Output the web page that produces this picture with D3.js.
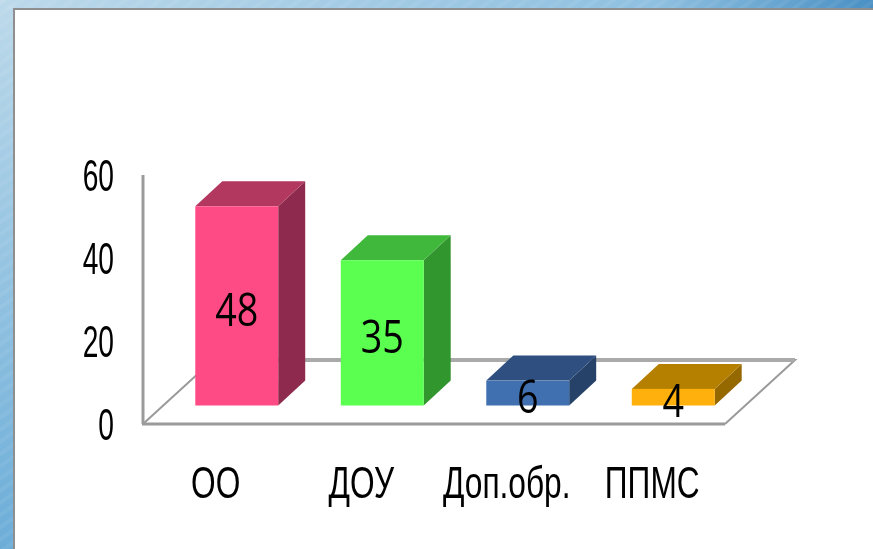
<!DOCTYPE html>
<html>
<head>
<meta charset="utf-8">
<script src="https://cdn.jsdelivr.net/npm/d3@7"></script>
<style>
html, body { margin: 0; padding: 0; background: #fff; overflow: hidden; }
svg { display: block; }
</style>
</head>
<body>
<div id="viz"></div>
<script>
var categories = ["ОО", "ДОУ", "Доп.обр.", "ППМС"];
var values = [48, 35, 6, 4];
var yTicks = [0, 20, 40, 60];
var frontColors = ["#ff4b85", "#5aff50", "#3f6fb0", "#ffb007"];
var topColors = ["#b33761", "#40b83a", "#2e5080", "#b58004"];
var sideColors = ["#8e2b4d", "#33962f", "#274368", "#966804"];

var width = 873, height = 549;

var svg = d3.select("#viz").append("svg")
    .attr("width", width)
    .attr("height", height);

// picture background, only seen along the top and left edges
var defs = svg.append("defs");
var topGrad = defs.append("linearGradient").attr("id", "topBg");
topGrad.append("stop").attr("offset", 0).attr("stop-color", "#bcd9ea");
topGrad.append("stop").attr("offset", 0.75).attr("stop-color", "#8fc0e0");
topGrad.append("stop").attr("offset", 1).attr("stop-color", "#4a90c4");
var leftGrad = defs.append("linearGradient").attr("id", "leftBg")
    .attr("x1", 0).attr("x2", 0).attr("y1", 0).attr("y2", 1);
leftGrad.append("stop").attr("offset", 0).attr("stop-color", "#bcd9ea");
leftGrad.append("stop").attr("offset", 1).attr("stop-color", "#6cadd8");
var stripes = defs.append("pattern").attr("id", "stripes")
    .attr("width", 10).attr("height", 10)
    .attr("patternUnits", "userSpaceOnUse")
    .attr("patternTransform", "rotate(-35)");
stripes.append("rect").attr("width", 10).attr("height", 4)
    .attr("fill", "#fff").attr("opacity", 0.06);
defs.append("filter").attr("id", "soft")
    .attr("x", "-5%").attr("y", "-5%").attr("width", "110%").attr("height", "110%")
    .append("feGaussianBlur").attr("stdDeviation", 0.6);

svg.append("rect").attr("width", width).attr("height", height).attr("fill", "#fff");
svg.append("rect").attr("width", width).attr("height", 9).attr("fill", "url(#topBg)");
svg.append("rect").attr("width", 13).attr("height", height).attr("fill", "url(#leftBg)");
svg.append("rect").attr("width", width).attr("height", 9).attr("fill", "url(#stripes)");
svg.append("rect").attr("width", 13).attr("height", height).attr("fill", "url(#stripes)");
svg.append("rect").attr("x", 13).attr("y", 8).attr("width", width - 13).attr("height", 2).attr("fill", "#8f8f8f");
svg.append("rect").attr("x", 13).attr("y", 8).attr("width", 2).attr("height", height - 8).attr("fill", "#8f8f8f");

var chart = svg.append("g").attr("filter", "url(#soft)");

var x = d3.scaleBand().domain(categories).range([143, 725]).paddingInner(0.43).paddingOuter(0.215);
var y = d3.scaleLinear().domain([0, 60]).range([424, 175]);

// depth of the floor, and where the bars sit on it
var floorDx = 70, floorDy = 64;
var frontDx = 21, frontDy = 18.5;
var barDx = 27, barDy = 25;

var grey = "#9a9a9a";

chart.append("path")
    .attr("d", d3.line()([[143, y(0)], [143 + floorDx, y(0) - floorDy], [725 + floorDx, y(0) - floorDy], [725, y(0)]]))
    .attr("fill", "#fff")
    .attr("stroke", grey)
    .attr("stroke-width", 2);
chart.append("line")
    .attr("x1", 143 + floorDx).attr("x2", 725 + floorDx)
    .attr("y1", y(0) - floorDy).attr("y2", y(0) - floorDy)
    .attr("stroke", "#aaa").attr("stroke-width", 4);

chart.append("line")
    .attr("x1", 143).attr("x2", 143).attr("y1", y(60)).attr("y2", y(0))
    .attr("stroke", grey).attr("stroke-width", 3);
chart.append("line")
    .attr("x1", 142).attr("x2", 725).attr("y1", y(0)).attr("y2", y(0))
    .attr("stroke", grey).attr("stroke-width", 3);

var bars = chart.selectAll("g.bar").data(values).enter().append("g").attr("class", "bar");

function left(i) { return x(categories[i]) + frontDx; }
function right(i) { return left(i) + x.bandwidth(); }
function base() { return y(0) - frontDy; }
function top_(d) { return y(d) - frontDy; }

bars.append("path")
    .attr("d", function(d, i) {
        return d3.line()([[right(i), top_(d)], [right(i) + barDx, top_(d) - barDy],
            [right(i) + barDx, base() - barDy], [right(i), base()]]) + "Z";
    })
    .attr("fill", function(d, i) { return sideColors[i]; });
bars.append("path")
    .attr("d", function(d, i) {
        return d3.line()([[left(i), top_(d)], [left(i) + barDx, top_(d) - barDy],
            [right(i) + barDx, top_(d) - barDy], [right(i), top_(d)]]) + "Z";
    })
    .attr("fill", function(d, i) { return topColors[i]; });
bars.append("rect")
    .attr("x", function(d, i) { return left(i); })
    .attr("y", function(d) { return top_(d); })
    .attr("width", x.bandwidth())
    .attr("height", function(d) { return base() - top_(d); })
    .attr("fill", function(d, i) { return frontColors[i]; });

// data labels
bars.append("text")
    .attr("transform", function(d, i) {
        return "translate(" + (left(i) + x.bandwidth() / 2) + "," + ((top_(d) + base()) / 2 + 20) + ") scale(0.82,1)";
    })
    .attr("text-anchor", "middle")
    .style("font-family", "'Open Sans'")
    .style("font-size", "46px")
    .attr("fill", "#000")
    .text(function(d) { return d; });

// axis labels, the original uses a narrow face so squeeze Liberation Sans
chart.selectAll("text.ytick").data(yTicks).enter().append("text")
    .attr("class", "ytick")
    .attr("transform", function(d) { return "translate(114," + (y(d) + 16) + ") scale(0.64,1)"; })
    .attr("text-anchor", "end")
    .style("font-family", "'Liberation Sans'")
    .style("font-size", "44px")
    .text(function(d) { return d; });

chart.selectAll("text.xtick").data(categories).enter().append("text")
    .attr("class", "xtick")
    .attr("transform", function(d) { return "translate(" + (x(d) + x.bandwidth() / 2) + ",498) scale(0.72,1)"; })
    .attr("text-anchor", "middle")
    .style("font-family", "'Liberation Sans'")
    .style("font-size", "44px")
    .text(function(d) { return d; });
</script>
</body>
</html>
